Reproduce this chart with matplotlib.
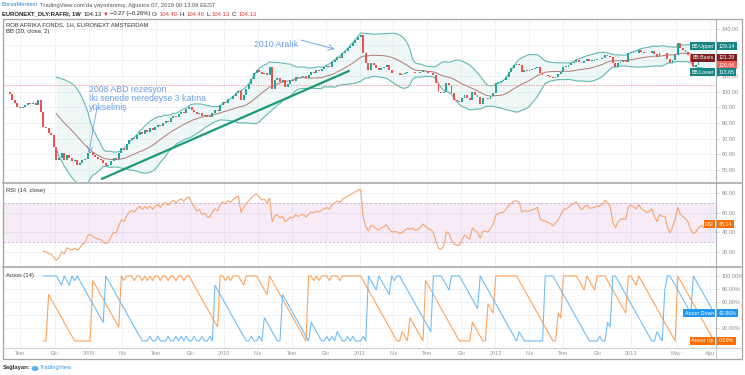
import numpy as np
import pandas as pd
import matplotlib
matplotlib.use('Agg')
import matplotlib.pyplot as plt
from matplotlib.patches import Rectangle, Ellipse
from matplotlib.lines import Line2D

plt.rcParams['font.family'] = ['Liberation Sans', 'DejaVu Sans']

W, H = 745, 375

# weekly closes, first bar = week of 2008-05-26
start_date = '2008-05-26'
first_open = 100.0
closes = [
    99.6, 98.6, 94.5, 92.8, 90.4, 89.5, 90.5, 91.5, 93.0, 92.0,
    93.0, 91.5, 94.7, 87.2, 77.7, 76.6, 73.6, 72.0, 64.9, 56.4,
    57.5, 60.7, 56.4, 59.6, 57.5, 55.4, 56.4, 53.2, 54.3, 56.4,
    56.8, 60.7, 61.5, 59.6, 58.0, 57.0, 56.4, 54.3, 52.6, 53.2,
    55.4, 57.5, 57.0, 60.7, 63.9, 63.0, 66.5, 69.0, 70.5, 69.8,
    72.4, 74.5, 73.0, 75.5, 74.5, 76.5, 75.2, 77.5, 78.8, 77.8,
    80.2, 81.5, 80.6, 83.0, 84.5, 83.6, 86.0, 87.2, 86.5, 89.0,
    90.4, 88.5, 87.2, 85.5, 86.5, 84.6, 85.4, 84.0, 83.8, 86.5,
    88.3, 87.6, 91.5, 93.6, 93.0, 95.5, 95.0, 97.2, 99.0, 100.5,
    94.5, 98.0, 101.5, 105.0, 108.0, 111.7, 113.8, 112.5, 111.2, 112.0,
    110.5, 116.0, 101.5, 107.5, 108.5, 106.0, 107.5, 103.2, 105.0, 107.5,
    106.8, 109.6, 108.5, 109.5, 110.2, 108.8, 110.5, 112.8, 112.2, 113.8,
    113.2, 114.5, 115.5, 116.4, 115.8, 119.1, 120.5, 122.3, 121.8, 124.5,
    126.0, 127.7, 129.0, 130.9, 133.0, 135.1, 136.2, 124.5, 118.0, 113.8,
    118.0, 117.0, 115.0, 113.8, 115.0, 116.0, 117.0, 114.0, 111.7, 112.0,
    111.7, 110.6, 111.0, 112.0, 112.8, 112.5, 112.8, 111.7, 112.0, 112.8,
    114.0, 113.0, 112.0, 111.7, 110.5, 105.3, 100.0, 99.0, 100.0, 105.3,
    104.3, 99.0, 94.7, 94.0, 93.6, 95.7, 97.9, 96.0, 94.7, 100.0,
    98.0, 96.8, 92.1, 95.7, 95.7, 95.0, 97.0, 99.0, 105.3, 106.4,
    107.0, 107.5, 109.6, 112.8, 115.0, 117.0, 117.5, 117.0, 112.8, 113.8,
    113.5, 113.8, 114.5, 115.0, 116.0, 111.7, 110.6, 110.6, 110.0, 109.6,
    108.5, 109.6, 111.0, 112.8, 116.0, 116.0, 117.0, 118.5, 119.1, 120.2,
    119.1, 118.0, 119.5, 120.6, 119.8, 119.8, 120.2, 120.6, 120.8, 121.3,
    123.4, 122.8, 122.3, 118.0, 116.0, 118.0, 119.1, 119.1, 119.0, 124.5,
    125.5, 125.0, 124.5, 126.6, 125.5, 125.0, 124.5, 125.0, 126.0, 124.0,
    122.3, 125.0, 124.5, 124.5, 121.0, 118.0, 120.2, 123.4, 130.9, 127.7,
    126.5, 125.5, 123.4, 119.0, 116.0, 117.0, 119.1, 120.2, 119.0, 120.0,
    121.0, 120.5, 120.06,
]

bb_length, bb_mult = 20, 2
rsi_length = 14
aroon_length = 14
last_price = 104.13

price_ticks = [50, 60, 70, 80, 90, 100, 110, 120, 130, 140]
price_hidden = [120, 130]      # covered by the BB value boxes
rsi_ticks = [20, 40, 60, 80]
aroon_ticks = [20, 40, 60, 80, 100]
aroon_hidden = [40]            # covered by the Aroon Down box

month_ticks = ['2008-07-01', '2008-10-01', '2009-01-01', '2009-04-01', '2009-07-01',
               '2009-10-01', '2010-01-01', '2010-04-01', '2010-07-01', '2010-10-01',
               '2011-01-01', '2011-04-01', '2011-07-01', '2011-10-01', '2012-01-01',
               '2012-04-01', '2012-07-01', '2012-10-01', '2013-01-01', '2013-05-01',
               '2013-08-01']
month_labels = ['Tem', 'Eki', '2009', 'Nis', 'Tem', 'Eki', '2010', 'Nis', 'Tem', 'Eki',
                '2011', 'Nis', 'Tem', 'Eki', '2012', 'Nis', 'Tem', 'Eki', '2013', 'May', 'Ağu']

# values shown on the right-hand scale
bb_label_names = ['BB:Upper', 'BB:Basis', '', 'BB:Lower']
bb_label_values = ['129.14', '121.29', '120.06', '113.65']
rsi_label_value = '48.14'
aroon_label_values = ['42.86%', '0.00%']

# hand drawn trend line (bar index, price)
trend_start = (36.5, 44.3)
trend_end = (131.5, 113.2)

up_col = '#26a69a'
down_col = '#ef5350'
note_col = '#6d9ee8'


def fx(px):
    return px / W


def fy(py):
    return 1 - py / H


def rma(vals, n):
    out = np.full(len(vals), np.nan)
    out[n] = np.mean(vals[1:n + 1])
    for k in range(n + 1, len(vals)):
        out[k] = (out[k - 1] * (n - 1) + vals[k]) / n
    return out


c = pd.Series(closes)
N = len(c)
idx = np.arange(N)
opens = np.concatenate([[first_open], c.values[:-1]])

basis = c.rolling(bb_length).mean()
dev = c.rolling(bb_length).std(ddof=0)
upper = basis + bb_mult * dev
lower = basis - bb_mult * dev

delta = c.diff().fillna(0).values
avg_gain = rma(np.clip(delta, 0, None), rsi_length)
avg_loss = rma(np.clip(-delta, 0, None), rsi_length)
rsi = 100 - 100 / (1 + avg_gain / avg_loss)

aroon_up = np.full(N, np.nan)
aroon_down = np.full(N, np.nan)
for k in range(aroon_length, N):
    win = c.values[k - aroon_length:k + 1][::-1]
    aroon_up[k] = 100 * (aroon_length - np.argmax(win)) / aroon_length
    aroon_down[k] = 100 * (aroon_length - np.argmin(win)) / aroon_length

t0 = pd.Timestamp(start_date)
tick_pos = [(pd.Timestamp(d) - t0).days / 7 for d in month_ticks]
xlim = (-1.54, 272.7)

fig = plt.figure(figsize=(W / 100, H / 100), dpi=100)
fig.patch.set_facecolor('white')

left, width = fx(3), fx(716) - fx(3)
ax_p = fig.add_axes([left, fy(182), width, fy(19) - fy(182)])
ax_r = fig.add_axes([left, fy(267), width, fy(183) - fy(267)])
ax_a = fig.add_axes([left, fy(348), width, fy(267) - fy(348)])


def style(ax, ticks, fmt, hidden=()):
    ax.set_xlim(*xlim)
    ax.yaxis.tick_right()
    ax.set_yticks(ticks)
    ax.set_yticklabels(['' if t in hidden else fmt.format(t) for t in ticks])
    ax.tick_params(axis='y', labelsize=4, labelcolor='#8c8c8c', colors='#bbbbbb',
                   length=2, width=0.5, pad=2)
    ax.set_xticks(tick_pos)
    ax.tick_params(axis='x', length=0, labelbottom=False)
    ax.grid(True, color='#edf1f6', lw=0.6)
    ax.set_axisbelow(True)
    for s in ['top', 'left', 'bottom']:
        ax.spines[s].set_visible(False)
    ax.spines['right'].set_color('#b5b5b5')
    ax.spines['right'].set_linewidth(0.8)


# main panel
style(ax_p, price_ticks, '{:.2f}', price_hidden)
ax_p.set_ylim(42.3, 146.4)
ax_p.fill_between(idx, lower, upper, color=up_col, alpha=0.07, lw=0)
ax_p.plot(idx, upper, color='#62b8b3', lw=0.8)
ax_p.plot(idx, lower, color='#62b8b3', lw=0.8)
ax_p.plot(idx, basis, color='#b07a74', lw=0.7)
ax_p.axhline(last_price, color='#f08a8a', lw=0.6, ls=(0, (1.5, 1.5)))

body_lo = np.minimum(opens, c.values)
body_h = np.maximum(np.abs(c.values - opens), 0.35)
cols = [up_col if cl >= op else down_col for op, cl in zip(opens, c.values)]
ax_p.bar(idx, body_h, bottom=body_lo, width=0.7, color=cols, lw=0, zorder=3)

ax_p.plot([trend_start[0], trend_end[0]], [trend_start[1], trend_end[1]],
          color='#1a9b78', lw=1.6, solid_capstyle='round', zorder=4)

ax_p.text(31.5, 104.5, '2008 ABD rezesyon\nİki senede neredeyse 3 katına\nyükselmiş',
          color=note_col, fontsize=6.3, va='top', ha='left', linespacing=0.95, zorder=5)
ax_p.annotate('', xy=(31.5, 60.9), xytext=(34.6, 89.6),
              arrowprops=dict(arrowstyle='->', color=note_col, lw=0.6, shrinkA=0, shrinkB=0))
ax_p.text(95, 130.4, '2010 Aralık', color=note_col, fontsize=6.3, va='center', ha='left')
ax_p.annotate('', xy=(126, 127.2), xytext=(113, 133),
              arrowprops=dict(arrowstyle='->', color=note_col, lw=0.6, shrinkA=0, shrinkB=0))

# RSI panel
style(ax_r, rsi_ticks, '{:.2f}')
ax_r.set_ylim(4.7, 90.2)
ax_r.axhspan(30, 70, color='#9c27b0', alpha=0.09, lw=0)
ax_r.axhline(70, color='#c7b0cf', lw=0.6, ls=(0, (3, 2)))
ax_r.axhline(30, color='#c7b0cf', lw=0.6, ls=(0, (3, 2)))
ax_r.plot(idx, rsi, color='#f8a46c', lw=0.8)

# Aroon panel
style(ax_a, aroon_ticks, '{:.2f}%', aroon_hidden)
ax_a.set_ylim(-10.8, 113.8)
ax_a.plot(idx, aroon_up, color='#ffa25a', lw=0.8)
ax_a.plot(idx, aroon_down, color='#70bdf5', lw=0.8)
ax_a.set_xticks(tick_pos)
ax_a.set_xticklabels(month_labels)
ax_a.tick_params(axis='x', labelbottom=True, labelsize=4, labelcolor='#9a9a9a', pad=2.5)


def scale_label(ax, y, name, value, color):
    tr = ax.get_yaxis_transform()
    if name:
        ax.text(0.997, y, name, transform=tr, ha='right', va='center', fontsize=3.8,
                color='white', clip_on=False, zorder=10,
                bbox=dict(boxstyle='square,pad=0.3', fc=color, ec='none'))
    ax.text(1.004, y, value, transform=tr, ha='left', va='center', fontsize=3.8,
            color='white', clip_on=False, zorder=10,
            bbox=dict(boxstyle='square,pad=0.3', fc=color, ec='none'))


bb_label_y = [129.14, 121.6, 117.0, 112.4]
bb_label_cols = ['#158686', '#7d1f1f', '#f0625e', '#158686']
for nm, val, yy, col in zip(bb_label_names, bb_label_values, bb_label_y, bb_label_cols):
    scale_label(ax_p, yy, nm, val, col)
scale_label(ax_r, float(rsi_label_value), 'RSI', rsi_label_value, '#ff6d00')
scale_label(ax_a, 42.86, 'Aroon Down', aroon_label_values[0], '#2196f3')
scale_label(ax_a, 0.0, 'Aroon Up', aroon_label_values[1], '#ff6d00')

# frame and separators
fig.add_artist(Rectangle((fx(3), fy(359)), fx(742) - fx(3), fy(19) - fy(359), fill=False,
                         ec='#a3a3a3', lw=0.9, transform=fig.transFigure))
for yy in [182.5, 267]:
    fig.add_artist(Line2D([fx(3), fx(742)], [fy(yy), fy(yy)], color='#a3a3a3', lw=1.1,
                          transform=fig.transFigure))
fig.add_artist(Line2D([fx(3), fx(742)], [fy(348), fy(348)], color='#c8c8c8', lw=0.6,
                      transform=fig.transFigure))
fig.add_artist(Line2D([fx(716), fx(716)], [fy(348), fy(359)], color='#c8c8c8', lw=0.6,
                      transform=fig.transFigure))

# panel titles
fs = 4.2
fig.text(fx(6), fy(25), 'ROB AFRIKA FONDS, 1H, EURONEXT AMSTERDAM', fontsize=fs, color='#333333', va='center')
fig.text(fx(6), fy(32), 'BB (20, close, 2)', fontsize=fs, color='#333333', va='center')
fig.text(fx(6), fy(190), 'RSI (14, close)', fontsize=fs, color='#333333', va='center')
fig.text(fx(6), fy(275), 'Aroon (14)', fontsize=fs, color='#333333', va='center')

renderer = fig.canvas.get_renderer()


def text_run(x_px, y_px, pieces):
    # place coloured pieces one after another on one line
    x = fx(x_px)
    for txt, col, wt, gap in pieces:
        t = fig.text(x, fy(y_px), txt, fontsize=fs, color=col, fontweight=wt, va='center')
        x += t.get_window_extent(renderer).width / W + gap / W


# header
text_run(2, 5, [('BorsaMerkezi', '#2f80d1', 'normal', 1.5),
                ("TradingView.com'da yayınlanmış, Ağustos 07, 2019 00:13:08 EEST", '#555555', 'normal', 0)])
dark, red = '#222222', '#e53935'
text_run(2, 14, [('EURONEXT_DLY:RAFRI, 1W', dark, 'bold', 3),
                 ('104.13', dark, 'normal', 1),
                 ('▼', red, 'normal', 1),
                 ('−0.27 (−0.26%)', dark, 'normal', 2),
                 ('O:', dark, 'normal', 1), ('104.40', red, 'normal', 2),
                 ('H:', dark, 'normal', 1), ('104.40', red, 'normal', 2),
                 ('L:', dark, 'normal', 1), ('104.13', red, 'normal', 2),
                 ('C:', dark, 'normal', 1), ('104.13', red, 'normal', 0)])

# footer
fig.text(fx(3), fy(368), 'Sağlayan:', fontsize=fs, color='#333333', fontweight='bold', va='center')
fig.add_artist(Ellipse((fx(35), fy(368.5)), fx(7), 5 / H, fc='#5fb3e8', ec='none',
                       transform=fig.transFigure))
fig.text(fx(40), fy(368), 'TradingView', fontsize=fs, color='#2f9ae0', va='center')

fig.savefig('out.png', dpi=100, facecolor='white')
